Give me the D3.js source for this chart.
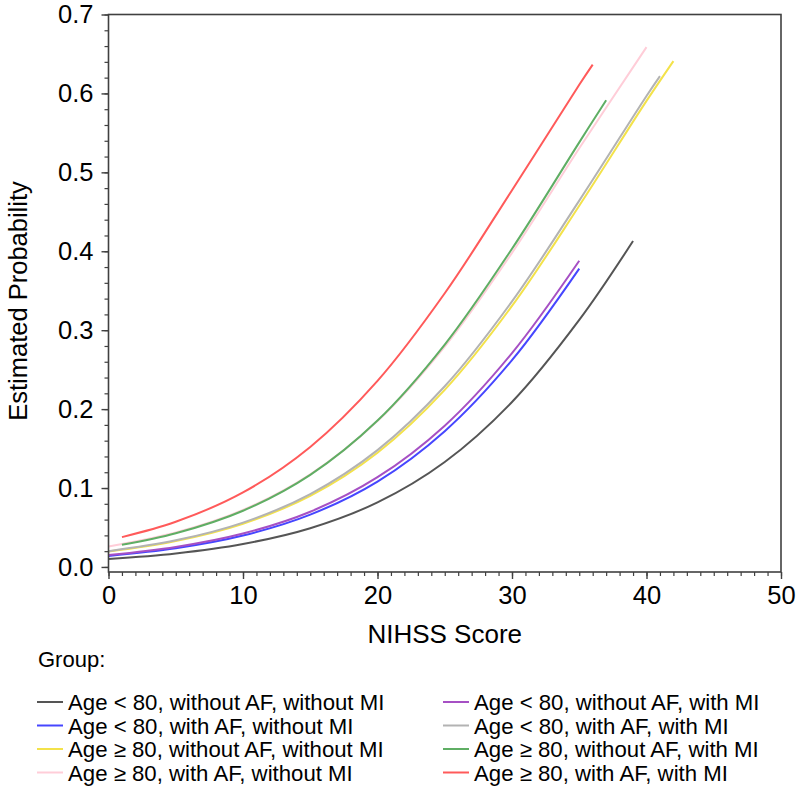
<!DOCTYPE html>
<html>
<head>
<meta charset="utf-8">
<script src="https://cdn.jsdelivr.net/npm/d3@7"></script>
<style>
  html, body { margin: 0; padding: 0; background: #fff; }
  svg { display: block; font-family: "Liberation Sans", Arial, Helvetica, sans-serif; }
</style>
</head>
<body>
<svg id="chart" width="800" height="786"></svg>
<script>
// ---- Data ----
const groups = [
  "Age < 80, without AF, without MI",
  "Age < 80, with AF, without MI",
  "Age \u2265 80, without AF, without MI",
  "Age \u2265 80, with AF, without MI",
  "Age < 80, without AF, with MI",
  "Age < 80, with AF, with MI",
  "Age \u2265 80, without AF, with MI",
  "Age \u2265 80, with AF, with MI"
];
const colors = ["#555555", "#4646ff", "#f3e24a", "#ffcdd8", "#a650c4", "#b3b3b3", "#5fae64", "#ff5a5a"];

const xBlack  = [0, 5, 10, 15, 20, 25, 30, 35, 39];
const yBlack  = [0.0100, 0.0171, 0.0291, 0.0491, 0.0818, 0.133, 0.209, 0.313, 0.413];
const xBlue   = [0, 5, 10, 15, 20, 25, 30, 35];
const yBlue   = [0.0140, 0.0237, 0.0398, 0.0663, 0.1082, 0.172, 0.262, 0.378];
const xYellow = [0, 5, 10, 15, 20, 25, 30, 35, 40, 42];
const yYellow = [0.0195, 0.0329, 0.0548, 0.0901, 0.1448, 0.2244, 0.3307, 0.4577, 0.5905, 0.641];
const xPink   = [0, 5, 10, 15, 20, 25, 30, 35, 40];
const yPink   = [0.0260, 0.0436, 0.0722, 0.1174, 0.185, 0.2793, 0.398, 0.5305, 0.6586];
const xPurple = [0, 5, 10, 15, 20, 25, 30, 35];
const yPurple = [0.0150, 0.0253, 0.0423, 0.0700, 0.1137, 0.179, 0.271, 0.388];
const xGray   = [0, 5, 10, 15, 20, 25, 30, 35, 40, 41];
const yGray   = [0.0200, 0.0337, 0.0562, 0.0923, 0.148, 0.2289, 0.3365, 0.4642, 0.5968, 0.622];
const xGreen  = [1, 5, 10, 15, 20, 25, 30, 35, 37];
const yGreen  = [0.0280, 0.0426, 0.0712, 0.1167, 0.1855, 0.2818, 0.4032, 0.538, 0.5914];
const xRed    = [1, 5, 10, 15, 20, 25, 30, 35, 36];
const yRed    = [0.0378, 0.0572, 0.0944, 0.1521, 0.2358, 0.3468, 0.4774, 0.611, 0.6365];

const seriesX = [xBlack, xBlue, xYellow, xPink, xPurple, xGray, xGreen, xRed];
const seriesY = [yBlack, yBlue, yYellow, yPink, yPurple, yGray, yGreen, yRed];

const xTicks = [0, 10, 20, 30, 40, 50];
const yTicks = [0.0, 0.1, 0.2, 0.3, 0.4, 0.5, 0.6, 0.7];
const xTitle = "NIHSS Score";
const yTitle = "Estimated Probability";
const legendTitle = "Group:";

// ---- Layout ----
const svg = d3.select("#chart");
const L = 108.5, R = 781, T = 14.5, B = 572;
const x = d3.scaleLinear().domain([0, 50]).range([L, R]);
const y = d3.scaleLinear().domain([-0.0064, 0.7]).range([B, T]);

// Curves
const line = d3.line().x(d => x(d[0])).y(d => y(d[1])).curve(d3.curveCatmullRom.alpha(0.5));
const plot = svg.append("g");
seriesX.forEach((xs, i) => {
  const pts = xs.map((v, j) => [v, seriesY[i][j]]);
  plot.append("path")
    .attr("d", line(pts))
    .attr("fill", "none")
    .attr("stroke", colors[i])
    .attr("stroke-width", 2);
});

// Frame
svg.append("rect")
  .attr("x", L).attr("y", T).attr("width", R - L).attr("height", B - T)
  .attr("fill", "none").attr("stroke", "#404040").attr("stroke-width", 1.6);

// X axis
const xAxis = svg.append("g").attr("transform", `translate(0,${B})`);
xAxis.call(d3.axisBottom(x).tickValues(d3.range(0, 51, 1)).tickSize(4).tickFormat(""))
  .call(g => g.select(".domain").remove())
  .call(g => g.selectAll("line").attr("stroke", "#404040").attr("stroke-width", 1.2));
xAxis.append("g")
  .call(d3.axisBottom(x).tickValues(xTicks).tickSize(7).tickPadding(7).tickFormat(d3.format("d")))
  .call(g => g.select(".domain").remove())
  .call(g => g.selectAll("line").attr("stroke", "#404040").attr("stroke-width", 1.4))
  .call(g => g.selectAll("text").attr("font-size", 25.5).attr("fill", "#000")
    .attr("font-family", "Liberation Sans, Arial, sans-serif"));

// Y axis
const yAxis = svg.append("g").attr("transform", `translate(${L},0)`);
yAxis.call(d3.axisLeft(y).tickValues(d3.range(0, 71, 2).map(v => v / 100)).tickSize(4).tickFormat(""))
  .call(g => g.select(".domain").remove())
  .call(g => g.selectAll("line").attr("stroke", "#404040").attr("stroke-width", 1.2));
yAxis.append("g")
  .call(d3.axisLeft(y).tickValues(yTicks).tickSize(7).tickPadding(8).tickFormat(d3.format(".1f")))
  .call(g => g.select(".domain").remove())
  .call(g => g.selectAll("line").attr("stroke", "#404040").attr("stroke-width", 1.4))
  .call(g => g.selectAll("text").attr("font-size", 25.5).attr("fill", "#000")
    .attr("font-family", "Liberation Sans, Arial, sans-serif"));

// Axis titles
svg.append("text")
  .attr("x", (L + R) / 2).attr("y", 643)
  .attr("text-anchor", "middle").attr("font-size", 26).attr("fill", "#000")
  .text(xTitle);
svg.append("text")
  .attr("transform", `translate(27,301) rotate(-90)`)
  .attr("text-anchor", "middle").attr("font-size", 25.5).attr("fill", "#000")
  .text(yTitle);

// Legend
svg.append("text").attr("x", 38).attr("y", 667)
  .attr("font-size", 22).attr("fill", "#000").text(legendTitle);
const rowsY = [702, 725.5, 749, 772.5];
groups.forEach((g, i) => {
  const col = i < 4 ? 0 : 1;
  const row = i % 4;
  const sx = col === 0 ? 37 : 443;
  const cy = rowsY[row];
  svg.append("line")
    .attr("x1", sx).attr("x2", sx + 26).attr("y1", cy).attr("y2", cy)
    .attr("stroke", colors[i]).attr("stroke-width", 2);
  svg.append("text")
    .attr("x", sx + 31).attr("y", cy + 8)
    .attr("font-size", 22.2).attr("fill", "#000").text(g);
});
</script>
</body>
</html>
